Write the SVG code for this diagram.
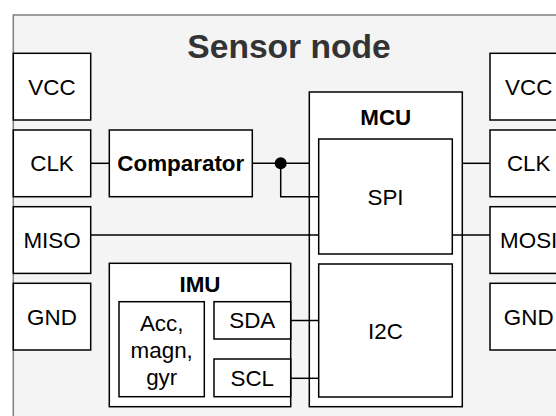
<svg xmlns="http://www.w3.org/2000/svg" width="556" height="416" viewBox="0 0 556 416">
  <style>
    .box { fill: #ffffff; stroke: #000000; stroke-width: 1.5; }
    .wire { fill: none; stroke: #000000; stroke-width: 1.5; }
    text { font-family: "Liberation Sans", Arial, Helvetica, sans-serif; font-size: 22.4px; fill: #000000; text-anchor: middle; }
    .bold { font-weight: bold; }
    .title { font-size: 33.6px; font-weight: bold; fill: #333333; }
  </style>
  <rect width="556" height="416" fill="#ffffff"/>

  <!-- Sensor node container -->
  <g id="sensor-node">
    <rect x="13.3" y="15" width="552" height="420" fill="#f4f4f4" stroke="#808080" stroke-width="1.5"/>
    <text class="title" x="289" y="58">Sensor node</text>
  </g>

  <!-- Left pins -->
  <g id="vcc-left"><rect class="box" x="13.3" y="53.3" width="77.4" height="66.7"/><text x="52" y="94.7">VCC</text></g>
  <g id="clk-left"><rect class="box" x="13.3" y="130" width="77.4" height="66.7"/><text x="52" y="171.4">CLK</text></g>
  <g id="miso-left"><rect class="box" x="13.3" y="206.7" width="77.4" height="66.7"/><text x="52" y="248">MISO</text></g>
  <g id="gnd-left"><rect class="box" x="13.3" y="283.3" width="77.4" height="66.7"/><text x="52" y="324.7">GND</text></g>

  <!-- Right pins -->
  <g id="vcc-right"><rect class="box" x="490" y="53.3" width="77.4" height="66.7"/><text x="528.7" y="94.7">VCC</text></g>
  <g id="clk-right"><rect class="box" x="490" y="130" width="77.4" height="66.7"/><text x="528.7" y="171.4">CLK</text></g>
  <g id="mosi-right"><rect class="box" x="490" y="206.7" width="77.4" height="66.7"/><text x="528.7" y="248">MOSI</text></g>
  <g id="gnd-right"><rect class="box" x="490" y="283.3" width="77.4" height="66.7"/><text x="528.7" y="324.7">GND</text></g>

  <!-- Comparator -->
  <g id="comparator"><rect class="box" x="109.3" y="130" width="143" height="66.7"/><text class="bold" x="180.8" y="171.4">Comparator</text></g>

  <!-- MCU with SPI and I2C blocks -->
  <g id="mcu">
    <rect class="box" x="309.3" y="92" width="153" height="314.7"/>
    <text class="bold" x="385.8" y="125">MCU</text>
  </g>
  <g id="spi"><rect class="box" x="318.7" y="139" width="133.6" height="115"/><text x="385.5" y="204.5">SPI</text></g>
  <g id="i2c"><rect class="box" x="318.7" y="264" width="133.6" height="133"/><text x="385.5" y="338.5">I2C</text></g>

  <!-- IMU with sensor and bus pins -->
  <g id="imu">
    <rect class="box" x="109.3" y="263.3" width="181.4" height="143.4"/>
    <text class="bold" x="200" y="292.3">IMU</text>
  </g>
  <g id="sensors">
    <rect class="box" x="119" y="301.7" width="85.3" height="95"/>
    <text x="161.7" y="331">Acc,</text>
    <text x="161.7" y="358">magn,</text>
    <text x="161.7" y="385">gyr</text>
  </g>
  <g id="sda"><rect class="box" x="214" y="301.7" width="76.7" height="37.3"/><text x="252.3" y="328.4">SDA</text></g>
  <g id="scl"><rect class="box" x="214" y="359" width="76.7" height="37.7"/><text x="252.3" y="385.9">SCL</text></g>

  <!-- Connectors -->
  <g id="connectors">
    <path class="wire" d="M90.7 163.3 H109.3"/>
    <path class="wire" d="M252.3 163.3 H309.3"/>
    <path class="wire" d="M280.7 163.3 V196.7 H318.7"/>
    <circle cx="280.7" cy="163.3" r="6" fill="#000000"/>
    <path class="wire" d="M90.7 235 H318.7"/>
    <path class="wire" d="M462.3 163.3 H490"/>
    <path class="wire" d="M452.3 235 H490"/>
    <path class="wire" d="M290.7 320.5 H318.7"/>
    <path class="wire" d="M290.7 378.3 H318.7"/>
  </g>
</svg>
